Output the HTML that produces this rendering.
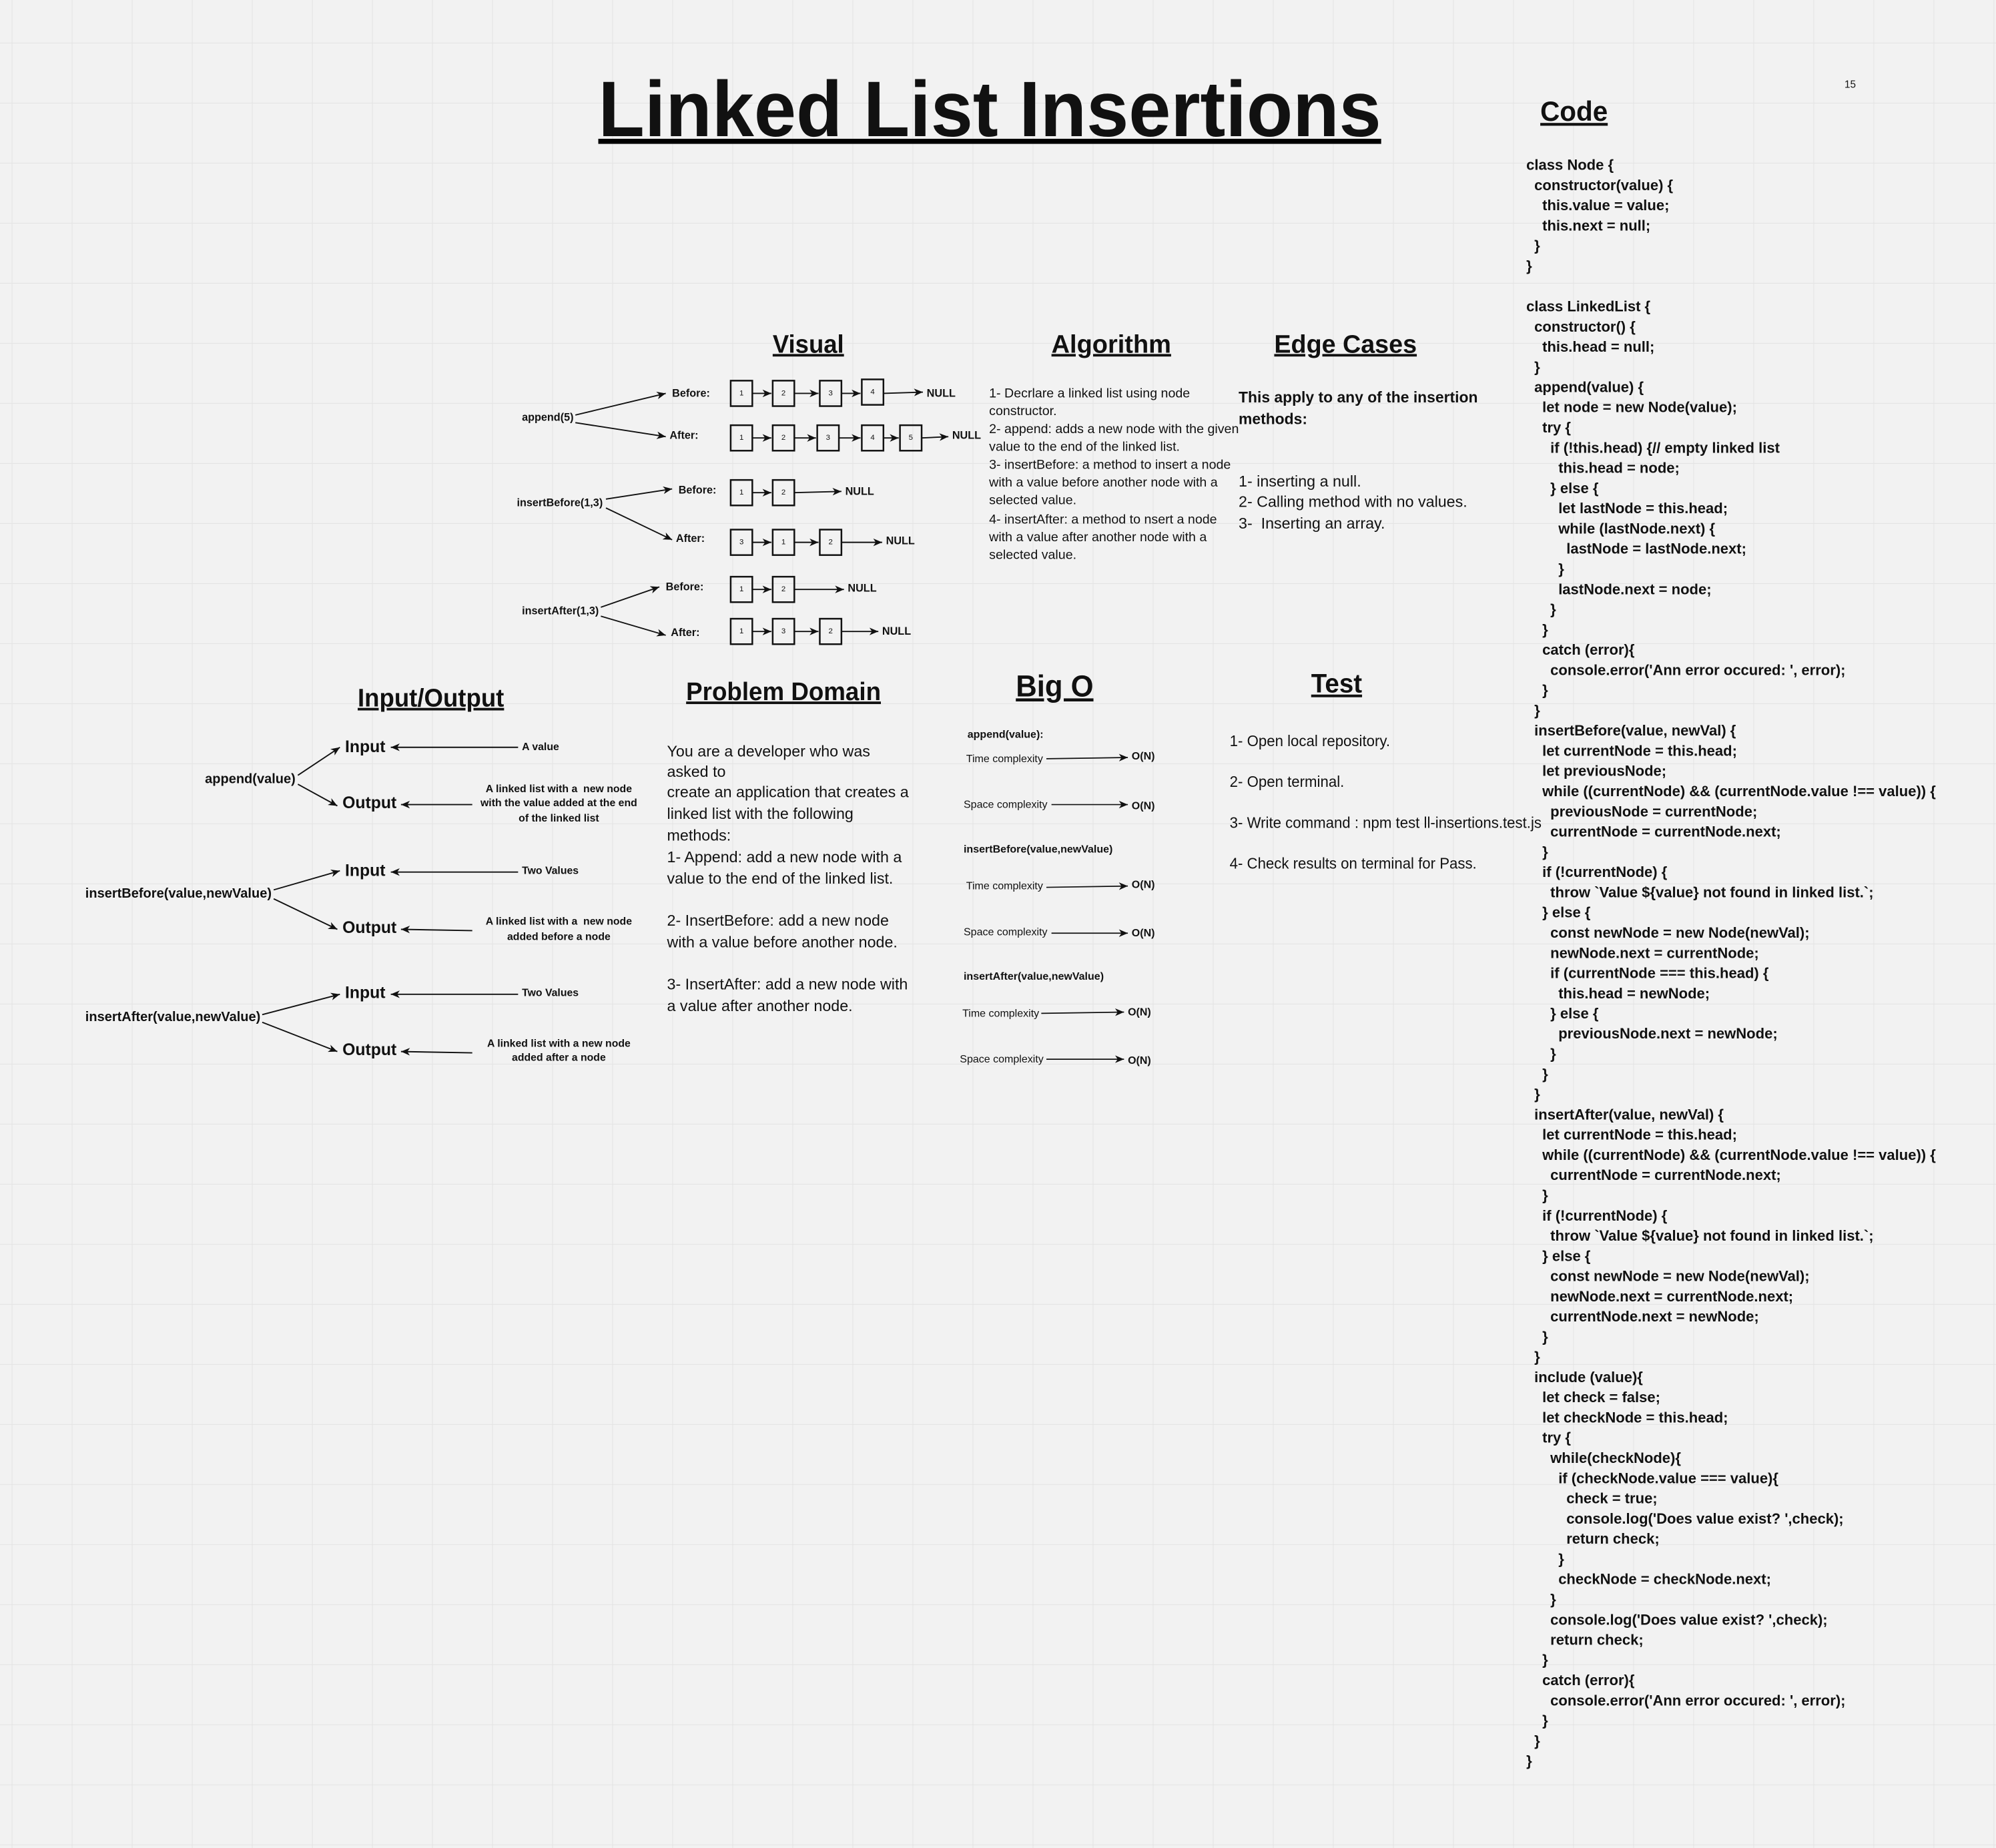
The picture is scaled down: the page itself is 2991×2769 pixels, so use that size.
<!DOCTYPE html>
<html><head><meta charset="utf-8"><style>
html,body{margin:0;padding:0;background:#f2f2f2}
svg{display:block}
text{font-family:"Liberation Sans",Arial,sans-serif;fill:#111}
.h{font-weight:bold;text-decoration:underline}
.b{font-weight:bold}
.c{font-weight:bold;font-size:11.55px}
</style></head><body>
<svg xmlns="http://www.w3.org/2000/svg" width="2991" height="2769" viewBox="0 0 1568 1451.6">
<defs>
<pattern id="g" x="9.2" y="33.5" width="47.18" height="47.18" patternUnits="userSpaceOnUse">
<path d="M0 0H47.18M0 0V47.18" stroke="#e3e3e3" stroke-width="1" fill="none"/>
</pattern>
<marker id="a" markerWidth="8" markerHeight="6" refX="7" refY="3" orient="auto" markerUnits="userSpaceOnUse">
<path d="M0,0 L7,3 L0,6 L2,3 Z" fill="#111"/>
</marker>
</defs>
<rect width="1568" height="1452" fill="#f2f2f2"/>
<rect width="1568" height="1452" fill="url(#g)"/>

<!-- Title -->
<text x="470" y="107" class="b" font-size="62" textLength="615" lengthAdjust="spacingAndGlyphs">Linked List Insertions</text>
<rect x="470" y="109" width="615" height="4" fill="#000"/>
<text x="1449" y="69" font-size="8">15</text>

<!-- Headings -->
<text x="1210" y="95" class="h" font-size="22" textLength="53" lengthAdjust="spacingAndGlyphs">Code</text>
<text x="607" y="277" class="h" font-size="20" textLength="56" lengthAdjust="spacingAndGlyphs">Visual</text>
<text x="826" y="277" class="h" font-size="20" textLength="94" lengthAdjust="spacingAndGlyphs">Algorithm</text>
<text x="1001" y="277" class="h" font-size="20" textLength="112" lengthAdjust="spacingAndGlyphs">Edge Cases</text>
<text x="281" y="555" class="h" font-size="20" textLength="115" lengthAdjust="spacingAndGlyphs">Input/Output</text>
<text x="539" y="550" class="h" font-size="20" textLength="153" lengthAdjust="spacingAndGlyphs">Problem Domain</text>
<text x="798" y="547" class="h" font-size="24" textLength="61" lengthAdjust="spacingAndGlyphs">Big O</text>
<text x="1030" y="544" class="h" font-size="21" textLength="40" lengthAdjust="spacingAndGlyphs">Test</text>

<!-- Visual -->
<g font-size="8.5" class="b" dominant-baseline="central">
<text x="410" y="328" class="b">append(5)</text>
<text x="528" y="309" class="b">Before:</text>
<text x="526" y="342" class="b">After:</text>
<text x="406" y="395" class="b">insertBefore(1,3)</text>
<text x="533" y="385" class="b">Before:</text>
<text x="531" y="423" class="b">After:</text>
<text x="410" y="480" class="b">insertAfter(1,3)</text>
<text x="523" y="461" class="b">Before:</text>
<text x="527" y="497" class="b">After:</text>
<text x="728" y="309" class="b">NULL</text>
<text x="748" y="342" class="b">NULL</text>
<text x="664" y="386" class="b">NULL</text>
<text x="696" y="425" class="b">NULL</text>
<text x="666" y="462" class="b">NULL</text>
<text x="693" y="496" class="b">NULL</text>
</g>
<g stroke="#111" stroke-width="1" fill="none" marker-end="url(#a)">
<line x1="452" y1="326" x2="523" y2="309"/>
<line x1="452" y1="332" x2="523" y2="343"/>
<line x1="476" y1="392" x2="528" y2="384"/>
<line x1="476" y1="399" x2="528" y2="424"/>
<line x1="472" y1="477" x2="518" y2="461"/>
<line x1="472" y1="484" x2="523" y2="499"/>
<line x1="591" y1="309" x2="606" y2="309"/><line x1="624" y1="309" x2="643" y2="309"/><line x1="661" y1="309" x2="676" y2="309"/><line x1="694" y1="309" x2="725" y2="308"/>
<line x1="591" y1="344" x2="606" y2="344"/><line x1="624" y1="344" x2="641" y2="344"/><line x1="659" y1="344" x2="676" y2="344"/><line x1="694" y1="344" x2="706" y2="344"/><line x1="724" y1="344" x2="745" y2="343"/>
<line x1="591" y1="387" x2="606" y2="387"/><line x1="624" y1="387" x2="661" y2="386"/>
<line x1="591" y1="426" x2="606" y2="426"/><line x1="624" y1="426" x2="643" y2="426"/><line x1="661" y1="426" x2="693" y2="426"/>
<line x1="591" y1="463" x2="606" y2="463"/><line x1="624" y1="463" x2="663" y2="463"/>
<line x1="591" y1="496" x2="606" y2="496"/><line x1="624" y1="496" x2="643" y2="496"/><line x1="661" y1="496" x2="690" y2="496"/>
</g>
<g stroke="#111" stroke-width="1.3" fill="none">
<rect x="574" y="299" width="17" height="20"/><rect x="607" y="299" width="17" height="20"/><rect x="644" y="299" width="17" height="20"/><rect x="677" y="298" width="17" height="20"/>
<rect x="574" y="334" width="17" height="20"/><rect x="607" y="334" width="17" height="20"/><rect x="642" y="334" width="17" height="20"/><rect x="677" y="334" width="17" height="20"/><rect x="707" y="334" width="17" height="20"/>
<rect x="574" y="377" width="17" height="20"/><rect x="607" y="377" width="17" height="20"/>
<rect x="574" y="416" width="17" height="20"/><rect x="607" y="416" width="17" height="20"/><rect x="644" y="416" width="17" height="20"/>
<rect x="574" y="453" width="17" height="20"/><rect x="607" y="453" width="17" height="20"/>
<rect x="574" y="486" width="17" height="20"/><rect x="607" y="486" width="17" height="20"/><rect x="644" y="486" width="17" height="20"/>
</g>
<g font-size="6" text-anchor="middle" dominant-baseline="central">
<text x="582.5" y="309">1</text><text x="615.5" y="309">2</text><text x="652.5" y="309">3</text><text x="685.5" y="308">4</text>
<text x="582.5" y="344">1</text><text x="615.5" y="344">2</text><text x="650.5" y="344">3</text><text x="685.5" y="344">4</text><text x="715.5" y="344">5</text>
<text x="582.5" y="387">1</text><text x="615.5" y="387">2</text>
<text x="582.5" y="426">3</text><text x="615.5" y="426">1</text><text x="652.5" y="426">2</text>
<text x="582.5" y="463">1</text><text x="615.5" y="463">2</text>
<text x="582.5" y="496">1</text><text x="615.5" y="496">3</text><text x="652.5" y="496">2</text>
</g>

<!-- Algorithm -->
<g font-size="10.3" dominant-baseline="central">
<text x="777" y="309">1- Decrlare a linked list using node</text>
<text x="777" y="323">constructor.</text>
<text x="777" y="337">2- append: adds a new node with the given</text>
<text x="777" y="351">value to the end of the linked list.</text>
<text x="777" y="365">3- insertBefore: a method to insert a node</text>
<text x="777" y="379">with a value before another node with a</text>
<text x="777" y="393">selected value.</text>
<text x="777" y="408">4- insertAfter: a method to nsert a node</text>
<text x="777" y="422">with a value after another node with a</text>
<text x="777" y="436">selected value.</text>
</g>

<!-- Edge cases -->
<g font-size="12.2" dominant-baseline="central">
<text x="973" y="312" class="b" font-size="12">This apply to any of the insertion</text>
<text x="973" y="329" class="b" font-size="12">methods:</text>
<text x="973" y="378">1- inserting a null.</text>
<text x="973" y="394">2- Calling method with no values.</text>
<text x="973" y="411" xml:space="preserve" style="white-space:pre">3-  Inserting an array.</text>
</g>

<!-- Input/Output -->
<g dominant-baseline="central">
<text x="161" y="612" class="b" font-size="10.5">append(value)</text>
<text x="67" y="702" class="b" font-size="10.5">insertBefore(value,newValue)</text>
<text x="67" y="799" class="b" font-size="10.5">insertAfter(value,newValue)</text>
<g font-size="13" class="b">
<text x="271" y="587" class="b">Input</text><text x="269" y="631" class="b">Output</text>
<text x="271" y="684" class="b">Input</text><text x="269" y="729" class="b">Output</text>
<text x="271" y="780" class="b">Input</text><text x="269" y="825" class="b">Output</text>
</g>
<g font-size="8.3" class="b">
<text x="410" y="587" class="b">A value</text>
<text x="410" y="684" class="b">Two Values</text>
<text x="410" y="780" class="b">Two Values</text>
</g>
<g font-size="8.3" class="b" text-anchor="middle">
<text x="439" y="620" class="b" xml:space="preserve" style="white-space:pre">A linked list with a  new node</text>
<text x="439" y="631" class="b">with the value added at the end</text>
<text x="439" y="643" class="b">of the linked list</text>
<text x="439" y="724" class="b" xml:space="preserve" style="white-space:pre">A linked list with a  new node</text>
<text x="439" y="736" class="b">added before a node</text>
<text x="439" y="820" class="b">A linked list with a new node</text>
<text x="439" y="831" class="b">added after a node</text>
</g>
</g>
<g stroke="#111" stroke-width="1" fill="none" marker-end="url(#a)">
<line x1="234" y1="609" x2="267" y2="587"/>
<line x1="234" y1="616" x2="265" y2="633"/>
<line x1="215" y1="699" x2="267" y2="684"/>
<line x1="215" y1="706" x2="265" y2="730"/>
<line x1="206" y1="797" x2="267" y2="781"/>
<line x1="206" y1="803" x2="265" y2="826"/>
<line x1="407" y1="587" x2="307" y2="587"/>
<line x1="371" y1="632" x2="315" y2="632"/>
<line x1="407" y1="685" x2="307" y2="685"/>
<line x1="371" y1="731" x2="315" y2="730"/>
<line x1="407" y1="781" x2="307" y2="781"/>
<line x1="371" y1="827" x2="315" y2="826"/>
</g>

<!-- Problem domain -->
<g font-size="12.2" dominant-baseline="central">
<text x="524" y="590">You are a developer who was</text>
<text x="524" y="606">asked to</text>
<text x="524" y="622">create an application that creates a</text>
<text x="524" y="639">linked list with the following</text>
<text x="524" y="656">methods:</text>
<text x="524" y="673">1- Append: add a new node with a</text>
<text x="524" y="690">value to the end of the linked list.</text>
<text x="524" y="723">2- InsertBefore: add a new node</text>
<text x="524" y="740">with a value before another node.</text>
<text x="524" y="773">3- InsertAfter: add a new node with</text>
<text x="524" y="790">a value after another node.</text>
</g>

<!-- Big O -->
<g font-size="8.4" dominant-baseline="central">
<text x="760" y="577" class="b">append(value):</text>
<text x="759" y="596">Time complexity</text><text x="889" y="594" class="b">O(N)</text>
<text x="757" y="632">Space complexity</text><text x="889" y="633" class="b">O(N)</text>
<text x="757" y="667" class="b">insertBefore(value,newValue)</text>
<text x="759" y="696">Time complexity</text><text x="889" y="695" class="b">O(N)</text>
<text x="757" y="732">Space complexity</text><text x="889" y="733" class="b">O(N)</text>
<text x="757" y="767" class="b">insertAfter(value,newValue)</text>
<text x="756" y="796">Time complexity</text><text x="886" y="795" class="b">O(N)</text>
<text x="754" y="832">Space complexity</text><text x="886" y="833" class="b">O(N)</text>
</g>
<g stroke="#111" stroke-width="0.9" fill="none" marker-end="url(#a)">
<line x1="822" y1="596" x2="886" y2="595"/>
<line x1="826" y1="632" x2="886" y2="632"/>
<line x1="822" y1="697" x2="886" y2="696"/>
<line x1="826" y1="733" x2="886" y2="733"/>
<line x1="818" y1="796" x2="883" y2="795"/>
<line x1="822" y1="832" x2="883" y2="832"/>
</g>

<!-- Test -->
<g font-size="12.2" dominant-baseline="central">
<text x="966" y="582" textLength="126" lengthAdjust="spacingAndGlyphs">1- Open local repository.</text>
<text x="966" y="614" textLength="90" lengthAdjust="spacingAndGlyphs">2- Open terminal.</text>
<text x="966" y="646" textLength="245" lengthAdjust="spacingAndGlyphs">3- Write command : npm test ll-insertions.test.js</text>
<text x="966" y="678" textLength="194" lengthAdjust="spacingAndGlyphs">4- Check results on terminal for Pass.</text>
</g>

<!-- Code -->
<g class="c" dominant-baseline="central">
<text class="c" x="1199" y="129.5">class Node {</text>
<text class="c" x="1205.3" y="145.4">constructor(value) {</text>
<text class="c" x="1211.6" y="161.2">this.value = value;</text>
<text class="c" x="1211.6" y="177.1">this.next = null;</text>
<text class="c" x="1205.3" y="193.0">}</text>
<text class="c" x="1199" y="208.9">}</text>
<text class="c" x="1199" y="240.6">class LinkedList {</text>
<text class="c" x="1205.3" y="256.5">constructor() {</text>
<text class="c" x="1211.6" y="272.3">this.head = null;</text>
<text class="c" x="1205.3" y="288.2">}</text>
<text class="c" x="1205.3" y="304.1">append(value) {</text>
<text class="c" x="1211.6" y="319.9">let node = new Node(value);</text>
<text class="c" x="1211.6" y="335.8">try {</text>
<text class="c" x="1217.9" y="351.7">if (!this.head) {// empty linked list</text>
<text class="c" x="1224.2" y="367.6">this.head = node;</text>
<text class="c" x="1217.9" y="383.4">} else {</text>
<text class="c" x="1224.2" y="399.3">let lastNode = this.head;</text>
<text class="c" x="1224.2" y="415.2">while (lastNode.next) {</text>
<text class="c" x="1230.5" y="431.0">lastNode = lastNode.next;</text>
<text class="c" x="1224.2" y="446.9">}</text>
<text class="c" x="1224.2" y="462.8">lastNode.next = node;</text>
<text class="c" x="1217.9" y="478.7">}</text>
<text class="c" x="1211.6" y="494.5">}</text>
<text class="c" x="1211.6" y="510.4">catch (error){</text>
<text class="c" x="1217.9" y="526.3">console.error('Ann error occured: ', error);</text>
<text class="c" x="1211.6" y="542.1">}</text>
<text class="c" x="1205.3" y="558.0">}</text>
<text class="c" x="1205.3" y="573.9">insertBefore(value, newVal) {</text>
<text class="c" x="1211.6" y="589.7">let currentNode = this.head;</text>
<text class="c" x="1211.6" y="605.6">let previousNode;</text>
<text class="c" x="1211.6" y="621.5">while ((currentNode) &amp;&amp; (currentNode.value !== value)) {</text>
<text class="c" x="1217.9" y="637.4">previousNode = currentNode;</text>
<text class="c" x="1217.9" y="653.2">currentNode = currentNode.next;</text>
<text class="c" x="1211.6" y="669.1">}</text>
<text class="c" x="1211.6" y="685.0">if (!currentNode) {</text>
<text class="c" x="1217.9" y="700.8">throw `Value ${value} not found in linked list.`;</text>
<text class="c" x="1211.6" y="716.7">} else {</text>
<text class="c" x="1217.9" y="732.6">const newNode = new Node(newVal);</text>
<text class="c" x="1217.9" y="748.5">newNode.next = currentNode;</text>
<text class="c" x="1217.9" y="764.3">if (currentNode === this.head) {</text>
<text class="c" x="1224.2" y="780.2">this.head = newNode;</text>
<text class="c" x="1217.9" y="796.1">} else {</text>
<text class="c" x="1224.2" y="811.9">previousNode.next = newNode;</text>
<text class="c" x="1217.9" y="827.8">}</text>
<text class="c" x="1211.6" y="843.7">}</text>
<text class="c" x="1205.3" y="859.5">}</text>
<text class="c" x="1205.3" y="875.4">insertAfter(value, newVal) {</text>
<text class="c" x="1211.6" y="891.3">let currentNode = this.head;</text>
<text class="c" x="1211.6" y="907.2">while ((currentNode) &amp;&amp; (currentNode.value !== value)) {</text>
<text class="c" x="1217.9" y="923.0">currentNode = currentNode.next;</text>
<text class="c" x="1211.6" y="938.9">}</text>
<text class="c" x="1211.6" y="954.8">if (!currentNode) {</text>
<text class="c" x="1217.9" y="970.6">throw `Value ${value} not found in linked list.`;</text>
<text class="c" x="1211.6" y="986.5">} else {</text>
<text class="c" x="1217.9" y="1002.4">const newNode = new Node(newVal);</text>
<text class="c" x="1217.9" y="1018.3">newNode.next = currentNode.next;</text>
<text class="c" x="1217.9" y="1034.1">currentNode.next = newNode;</text>
<text class="c" x="1211.6" y="1050.0">}</text>
<text class="c" x="1205.3" y="1065.9">}</text>
<text class="c" x="1205.3" y="1081.7">include (value){</text>
<text class="c" x="1211.6" y="1097.6">let check = false;</text>
<text class="c" x="1211.6" y="1113.5">let checkNode = this.head;</text>
<text class="c" x="1211.6" y="1129.3">try {</text>
<text class="c" x="1217.9" y="1145.2">while(checkNode){</text>
<text class="c" x="1224.2" y="1161.1">if (checkNode.value === value){</text>
<text class="c" x="1230.5" y="1177.0">check = true;</text>
<text class="c" x="1230.5" y="1192.8">console.log('Does value exist? ',check);</text>
<text class="c" x="1230.5" y="1208.7">return check;</text>
<text class="c" x="1224.2" y="1224.6">}</text>
<text class="c" x="1224.2" y="1240.4">checkNode = checkNode.next;</text>
<text class="c" x="1217.9" y="1256.3">}</text>
<text class="c" x="1217.9" y="1272.2">console.log('Does value exist? ',check);</text>
<text class="c" x="1217.9" y="1288.1">return check;</text>
<text class="c" x="1211.6" y="1303.9">}</text>
<text class="c" x="1211.6" y="1319.8">catch (error){</text>
<text class="c" x="1217.9" y="1335.7">console.error('Ann error occured: ', error);</text>
<text class="c" x="1211.6" y="1351.5">}</text>
<text class="c" x="1205.3" y="1367.4">}</text>
<text class="c" x="1199" y="1383.3">}</text>
</g>
</svg>
</body></html>
